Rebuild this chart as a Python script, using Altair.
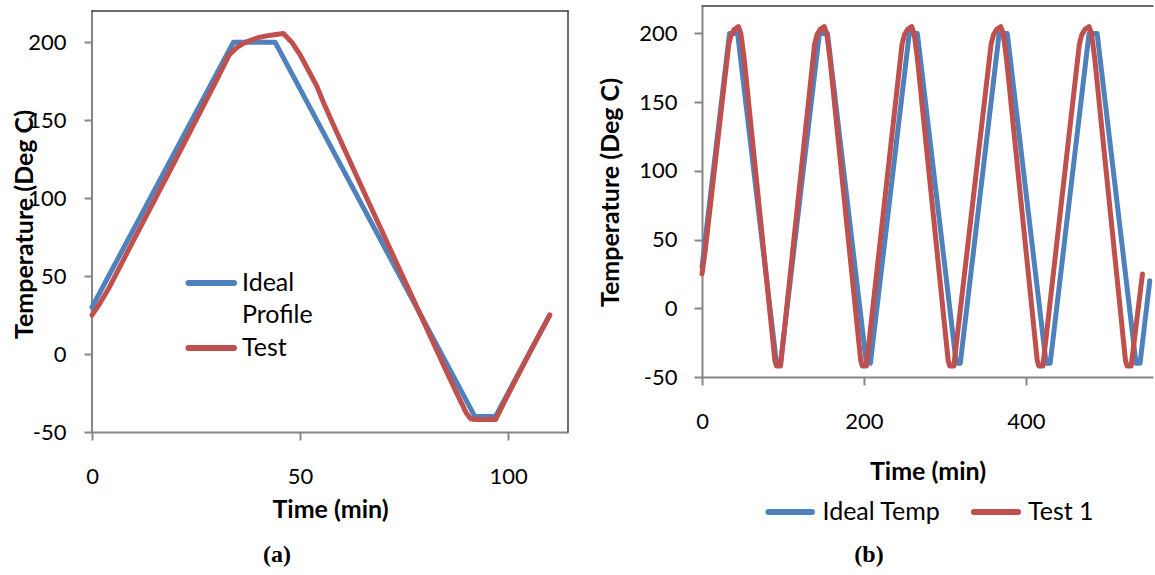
import altair as alt
import pandas as pd

BLUE = "#4F81BD"
RED = "#C0504D"
AXIS_GREY = "#868686"
FRAME = "#3c3c3c"
FONT = "Lato"

# ---------------- Panel (a) data ----------------
a_ideal_time = [0, 34, 44, 92, 97, 110]
a_ideal_temp = [30, 200, 200, -40, -40, 25]
a_test_time = [0, 2, 4, 10, 20, 30, 33, 35, 37, 40, 43, 46, 48, 50, 52, 54, 56, 58,
               65, 75, 80, 85, 88, 90, 91, 92, 97, 100, 105, 110]
a_test_temp = [25, 33, 42, 73, 124, 176, 192, 197, 200, 203, 204.5, 205.5, 200, 192, 182,
               172, 159, 147, 106, 48, 19, -10, -27, -38, -41.5, -42, -42, -26, 0, 25]
a_legend_labels = ["Ideal\nProfile", "Test"]

# ---------------- Panel (b) data ----------------
b_ideal_time = [0, 34, 44, 92, 97, 145, 155, 203, 208, 256, 266, 314, 319, 367, 377,
                425, 430, 478, 488, 536, 541, 553]
b_ideal_temp = [30, 200, 200, -40, -40, 200, 200, -40, -40, 200, 200, -40, -40, 200, 200,
                -40, -40, 200, 200, -40, -40, 20]
b_test_time = [0, 4, 33, 36, 40, 45, 48, 52, 56, 58, 90, 92, 97,
               139, 142, 146, 151, 154, 158, 162, 164, 196, 198, 203,
               247, 250, 254, 259, 262, 266, 270, 272, 304, 306, 311,
               357, 360, 364, 369, 372, 376, 380, 382, 414, 416, 421,
               466, 469, 473, 478, 481, 485, 489, 491, 523, 525, 530, 544]
b_test_temp = [25, 42, 192, 199, 203, 205, 200, 182, 159, 147, -38, -42, -42,
               192, 199, 203, 205, 200, 182, 159, 147, -38, -42, -42,
               192, 199, 203, 205, 200, 182, 159, 147, -38, -42, -42,
               192, 199, 203, 205, 200, 182, 159, 147, -38, -42, -42,
               192, 199, 203, 205, 200, 182, 159, 147, -38, -42, -42, 25]
b_legend_labels = ["Ideal Temp", "Test 1"]

y_ticks = [-50, 0, 50, 100, 150, 200]

ONE = pd.DataFrame({"k": [0]})
PLAIN = "toString(datum.value)"


def frame_df(t, v):
    return pd.DataFrame({"t": t, "v": v, "i": list(range(len(t)))})


def series(d, color, x, y):
    return alt.Chart(d).mark_line(color=color, strokeWidth=5, strokeCap="round",
                                  strokeJoin="round").encode(x=x, y=y, order="i:Q")


def rule(x1, x2, y1, y2, color, width):
    return alt.Chart(ONE).mark_rule(color=color, strokeWidth=width, strokeCap="round").encode(
        x=alt.value(x1), x2=alt.value(x2), y=alt.value(y1), y2=alt.value(y2))


def label(text, x, y, size=25, weight="normal", font=FONT, align="left"):
    return alt.Chart(ONE).mark_text(text=text, font=font, fontSize=size, fontWeight=weight,
                                    align=align, baseline="middle", color="black",
                                    lineBreak="\n", lineHeight=32).encode(
        x=alt.value(x), y=alt.value(y))


# ---------------- Panel (a) ----------------
A_W, A_H = 476, 426
A_X = [0, 114.4]
A_Y = [-50, 223.2]


def ay(v):
    return A_H * (A_Y[1] - v) / (A_Y[1] - A_Y[0])


xa = alt.X("t:Q", scale=alt.Scale(domain=A_X, nice=False, zero=False),
           axis=alt.Axis(values=[0, 50, 100], title="Time (min)", labelPadding=26,
                         titleY=77, titleBaseline="middle", labelFlush=False, labelExpr=PLAIN))
ya = alt.Y("v:Q", scale=alt.Scale(domain=A_Y, nice=False, zero=False),
           axis=alt.Axis(values=y_ticks, title="Temperature (Deg C)", domain=False,
                         labelPadding=18, titleX=-68, titleY=218, titleBaseline="middle",
                         labelFlush=False, labelExpr=PLAIN))

chart_a = alt.layer(
    rule(0, 0, ay(220), A_H, AXIS_GREY, 2),
    rule(0, A_W, ay(220), ay(220), FRAME, 1.5),
    rule(A_W, A_W, ay(220), A_H, FRAME, 1.5),
    series(frame_df(a_ideal_time, a_ideal_temp), BLUE, xa, ya),
    series(frame_df(a_test_time, a_test_temp), RED, xa, ya),
    rule(96.5, 142, 277, 277, BLUE, 6),
    rule(96.5, 142, 342, 342, RED, 6),
    label(a_legend_labels[0], 150, 277),
    label(a_legend_labels[1], 150, 342),
    label("(a)", 185, 549, size=24, weight="bold", font="Liberation Serif", align="center"),
).properties(width=A_W, height=A_H)

# ---------------- Panel (b) ----------------
B_W, B_H = 451, 371
B_X = [0, 557]
B_Y = [-50, 220]

xb = alt.X("t:Q", scale=alt.Scale(domain=B_X, nice=False, zero=False),
           axis=alt.Axis(values=[0, 200, 400], title="Time (min)", labelPadding=26,
                         titleY=94, titleBaseline="middle", labelFlush=False, labelExpr=PLAIN))
yb = alt.Y("v:Q", scale=alt.Scale(domain=B_Y, nice=False, zero=False),
           axis=alt.Axis(values=y_ticks, title="Temperature (Deg C)", labelPadding=17,
                         titleX=-92, titleY=186, titleBaseline="middle", labelFlush=False,
                         labelExpr=PLAIN))

chart_b = alt.layer(
    rule(0, B_W, 0, 0, FRAME, 1.5),
    series(frame_df(b_ideal_time, b_ideal_temp), BLUE, xb, yb),
    series(frame_df(b_test_time, b_test_temp), RED, xb, yb),
    rule(66.5, 110, 506, 506, BLUE, 6),
    rule(272, 316, 506, 506, RED, 6),
    label(b_legend_labels[0], 120.5, 506),
    label(b_legend_labels[1], 326, 506),
    label("(b)", 167, 549, size=24, weight="bold", font="Liberation Serif", align="center"),
).properties(width=B_W, height=B_H)

chart = alt.hconcat(chart_a, chart_b, spacing=134, bounds="flush").properties(
    padding={"left": 12, "top": 5, "right": 0, "bottom": 0}
).configure_view(stroke=None).configure_axis(
    domainColor=AXIS_GREY, domainWidth=2, tickColor=AXIS_GREY, tickWidth=2, tickSize=8,
    grid=False, labelFont=FONT, labelFontSize=22, labelColor="black",
    titleFont=FONT, titleFontSize=25, titleFontWeight="bold", titleColor="black"
)

chart.save("out.html", embed_options={"renderer": "svg", "actions": False})
